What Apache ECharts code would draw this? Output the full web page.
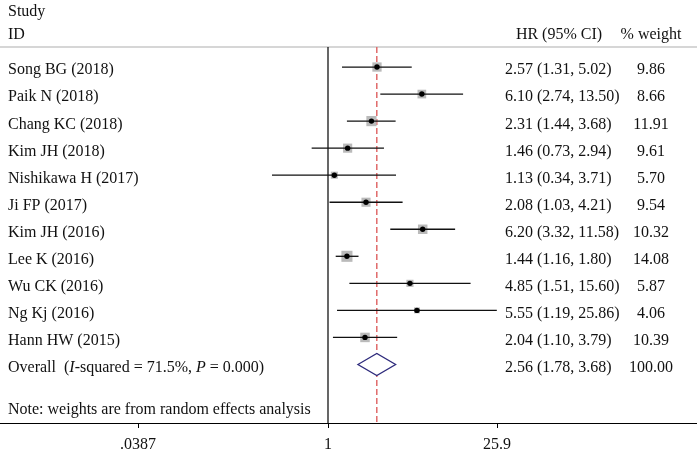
<!DOCTYPE html>
<html>
<head>
<meta charset="utf-8">
<script src="https://cdn.jsdelivr.net/npm/echarts@6/dist/echarts.min.js"></script>
<style>html,body{margin:0;padding:0;background:#fff}#c{width:697px;height:453px}</style>
</head>
<body>
<div id="c"></div>
<script>
// ---- data ----
var studies = ['Song BG (2018)','Paik N (2018)','Chang KC (2018)','Kim JH (2018)','Nishikawa H (2017)','Ji FP (2017)','Kim JH (2016)','Lee K (2016)','Wu CK (2016)','Ng Kj (2016)','Hann HW (2015)'];
var hr    = [2.57, 6.10, 2.31, 1.46, 1.13, 2.08, 6.20, 1.44, 4.85, 5.55, 2.04];
var lower = [1.31, 2.74, 1.44, 0.73, 0.34, 1.03, 3.32, 1.16, 1.51, 1.19, 1.10];
var upper = [5.02, 13.50, 3.68, 2.94, 3.71, 4.21, 11.58, 1.80, 15.60, 25.86, 3.79];
var weights = [9.86, 8.66, 11.91, 9.61, 5.70, 9.54, 10.32, 14.08, 5.87, 4.06, 10.39];
var overallHR = 2.56, overallLo = 1.78, overallHi = 3.68, overallWeight = 100.00;
var iSquared = '71.5%', pValue = '0.000';
var tickLabels = ['.0387', '1', '25.9'];
var tickAt = [0.0257, 1, 25.9]; // where each tick sits on the HR (log) scale, as drawn
var noteText = 'Note: weights are from random effects analysis';

// ---- chart ----
var FONT = '"Liberation Serif", "Times New Roman", serif';
var FS = 16;
var ln = Math.log;
var nRows = studies.length;
var overallRow = nRows;
var noteRow = 12.56;
var headerLineRow = -0.737;
var axisRow = 13.165;

var studyData = hr.map(function (v, i) { return [ln(v), i, ln(lower[i]), ln(upper[i]), weights[i]]; });

function fmt(v){ return v.toFixed(2); }

var textRows = [];
textRows.push({row: -2.15, left: 'Study'});
textRows.push({row: -1.30, left: 'ID', mid: 'HR (95% CI)', midCenter: true, right: '% weight'});
studies.forEach(function (s, i) {
  textRows.push({row: i, left: s, mid: fmt(hr[i]) + ' (' + fmt(lower[i]) + ', ' + fmt(upper[i]) + ')', right: fmt(weights[i])});
});
textRows.push({row: overallRow, overall: true, mid: fmt(overallHR) + ' (' + fmt(overallLo) + ', ' + fmt(overallHi) + ')', right: fmt(overallWeight)});
textRows.push({row: noteRow, left: noteText});

var chart = echarts.init(document.getElementById('c'), null, {renderer: 'canvas'});
var xMin = -328 / 51.9, xMax = 369 / 51.9;

chart.setOption({
  animation: false,
  grid: {left: 0, right: 0, top: 0, bottom: 22, containLabel: false},
  xAxis: {
    type: 'value', min: xMin, max: xMax,
    axisLine: {show: true, onZero: false, lineStyle: {color: '#000', width: 1.2}},
    axisTick: {show: true, length: 5, customValues: tickAt.map(ln), lineStyle: {color: '#000'}},
    axisLabel: {
      show: true, customValues: tickAt.map(ln), margin: 14,
      color: '#111', fontFamily: FONT, fontSize: FS,
      formatter: function (v) {
        var best = 0, d = 1e9;
        tickAt.forEach(function (t, i) { var dd = Math.abs(ln(t) - v); if (dd < d) { d = dd; best = i; } });
        return tickLabels[best];
      }
    },
    splitLine: {show: false}
  },
  yAxis: {
    type: 'value', inverse: true, min: -2.479, max: axisRow, show: false
  },
  series: [
    {
      type: 'custom', name: 'guides', silent: true, z: 1,
      data: [[0]],
      renderItem: function (params, api) {
        var cs = params.coordSys;
        var top = api.coord([0, headerLineRow]);
        var bot = api.coord([0, axisRow]);
        var x1 = api.coord([0, 0])[0];
        var xo = api.coord([ln(overallHR), 0])[0];
        return {type: 'group', children: [
          {type: 'line', shape: {x1: cs.x, y1: top[1], x2: cs.x + cs.width, y2: top[1]}, style: {stroke: '#c8c8c8', lineWidth: 1.5}},
          {type: 'line', shape: {x1: x1, y1: top[1], x2: x1, y2: bot[1]}, style: {stroke: '#000', lineWidth: 1.2}},
          {type: 'line', shape: {x1: xo, y1: top[1], x2: xo, y2: bot[1]}, style: {stroke: '#e06a6a', lineWidth: 1.5, lineDash: [6, 3]}, z2: 10}
        ]};
      }
    },
    {
      type: 'custom', name: 'studies', silent: true, z: 3,
      data: studyData,
      encode: {x: 0, y: 1},
      renderItem: function (params, api) {
        var c = api.coord([api.value(0), api.value(1)]);
        var l = api.coord([api.value(2), api.value(1)]);
        var h = api.coord([api.value(3), api.value(1)]);
        var s = Math.sqrt(api.value(4)) * 2.95;
        return {type: 'group', children: [
          {type: 'rect', shape: {x: c[0] - s / 2, y: c[1] - s / 2, width: s, height: s}, style: {fill: '#bababa'}},
          {type: 'line', shape: {x1: l[0], y1: c[1], x2: h[0], y2: c[1]}, style: {stroke: '#111', lineWidth: 1.3}},
          {type: 'circle', shape: {cx: c[0], cy: c[1], r: 2.7}, style: {fill: '#000'}}
        ]};
      }
    },
    {
      type: 'custom', name: 'overall', silent: true, z: 3,
      data: [[ln(overallHR), overallRow, ln(overallLo), ln(overallHi)]],
      encode: {x: 0, y: 1},
      renderItem: function (params, api) {
        var c = api.coord([api.value(0), api.value(1)]);
        var l = api.coord([api.value(2), api.value(1)]);
        var h = api.coord([api.value(3), api.value(1)]);
        var hh = 11;
        return {type: 'polygon', shape: {points: [[l[0], c[1]], [c[0], c[1] - hh], [h[0], c[1]], [c[0], c[1] + hh]]},
          style: {fill: '#fff', stroke: '#2e2b7c', lineWidth: 1.3}};
      }
    },
    {
      type: 'custom', name: 'text', silent: true, z: 5,
      data: textRows.map(function (t) { return [0, t.row]; }),
      renderItem: function (params, api) {
        var t = textRows[params.dataIndex];
        var y = api.coord([0, t.row])[1] - 4.8;
        var base = {fill: '#111', font: FS + 'px ' + FONT};
        var ch = [];
        if (t.left) ch.push({type: 'text', style: Object.assign({}, base, {x: 8, y: y, text: t.left, textAlign: 'left'})});
        if (t.overall) {
          ch.push({type: 'text', style: Object.assign({}, base, {x: 8, y: y, textAlign: 'left',
            text: '{n|Overall  (}{i|I}{n|-squared = ' + iSquared + ', }{i|P}{n| = ' + pValue + ')}',
            rich: {n: {fontFamily: FONT, fontSize: FS, fill: '#111'}, i: {fontFamily: FONT, fontSize: FS, fontStyle: 'italic', fill: '#111'}}})});
        }
        if (t.mid) ch.push({type: 'text', style: Object.assign({}, base, {x: t.midCenter ? 559 : 505, y: y, text: t.mid, textAlign: t.midCenter ? 'center' : 'left'})});
        if (t.right) ch.push({type: 'text', style: Object.assign({}, base, {x: 651, y: y, text: t.right, textAlign: 'center'})});
        return {type: 'group', children: ch};
      }
    }
  ]
});
</script>
</body>
</html>
